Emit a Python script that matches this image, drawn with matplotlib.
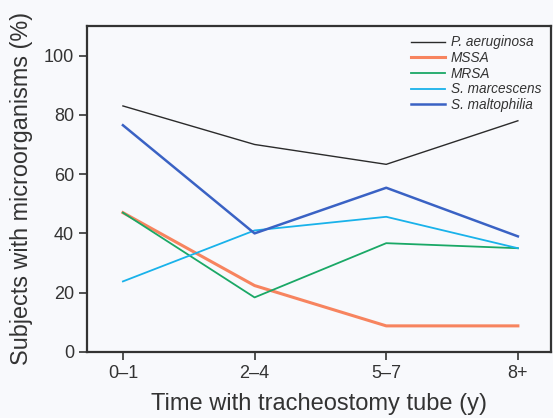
import matplotlib
matplotlib.use("Agg")
import matplotlib.pyplot as plt

plt.rcParams['font.family'] = ['Liberation Sans', 'DejaVu Sans']

groups = ["0\u20131", "2\u20134", "5\u20137", "8+"]
names = ["P. aeruginosa", "MSSA", "MRSA", "S. marcescens", "S. maltophilia"]
p_aeruginosa = [83, 70, 63.3, 78]
mssa = [47, 22.4, 8.8, 8.8]
mrsa = [47, 18.4, 36.7, 35]
s_marcescens = [23.8, 41, 45.6, 35]
s_maltophilia = [76.5, 40, 55.4, 39]

series = [p_aeruginosa, mssa, mrsa, s_marcescens, s_maltophilia]
colors = ["#2b2b2b", "#f7845f", "#1aa866", "#19b2ea", "#3a62c4"]
widths = [1.0, 2.2, 1.3, 1.3, 1.8]

bg = "#f8f9fc"
fig = plt.figure(figsize=(5.53, 4.18), dpi=100, facecolor=bg)
ax = fig.add_axes([0.158, 0.158, 0.838, 0.78])
ax.set_facecolor(bg)

x = list(range(len(groups)))
for vals, name, c, w in zip(series, names, colors, widths):
    ax.plot(x, vals, color=c, lw=w, label=name)

ax.set_xlim(-0.27, 3.25)
ax.set_ylim(0, 110)
ax.set_yticks([0, 20, 40, 60, 80, 100])
ax.set_xticks(x)
ax.set_xticklabels(groups)
ax.tick_params(labelsize=13, direction='out', length=6, width=1.2, color="#333333", labelcolor="#333333")
for s in ax.spines.values():
    s.set_linewidth(1.6)
    s.set_color("#333333")

ax.set_ylabel("Subjects with microorganisms (%)", fontsize=16.8, color="#333333", labelpad=8)
ax.set_xlabel("Time with tracheostomy tube (y)", fontsize=17, color="#333333", labelpad=8)

leg = ax.legend(loc='upper right', frameon=False, handlelength=2.5,
                handletextpad=0.4, labelspacing=0.12, borderaxespad=0.3,
                prop={'style': 'italic', 'size': 9.8})
for t in leg.get_texts():
    t.set_color("#333333")

fig.savefig("out.png", dpi=100, facecolor=bg)
